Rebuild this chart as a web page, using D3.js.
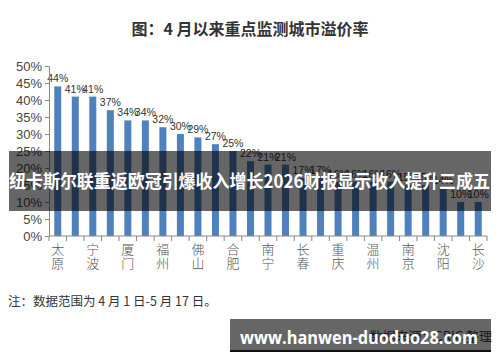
<!DOCTYPE html>
<html>
<head>
<meta charset="utf-8">
<script src="https://cdn.jsdelivr.net/npm/d3@7/dist/d3.min.js"></script>
<style>
  html, body { margin: 0; padding: 0; background: #fff; }
  svg { display: block; }
</style>
</head>
<body>
<svg id="chart" width="500" height="362"></svg>
<script>
// City premium rates since April (%), one bar per monitored city
const cityLabels = ["太原", "", "宁波", "", "厦门", "", "福州", "", "佛山", "", "合肥", "",
                    "南宁", "", "长春", "", "重庆", "", "温州", "", "南京", "", "沈阳", "", "长沙"];
const premiumRates = [44, 41, 41, 37, 34, 34, 32, 30, 29, 27, 25, 22,
                      21, 21, 17, 17, 16, 16, 16, 16, 15, 15, 14, 10, 10];
const yTicks = [0, 5, 10, 15, 20, 25, 30, 35, 40, 45, 50];

const titleText = "图：4 月以来重点监测城市溢价率";
const noteText = "注：数据范围为 4 月 1 日-5 月 17 日。";
const sourceText = "数据来源：CRIC 整理";
const bannerText = "纽卡斯尔联重返欧冠引爆收入增长2026财报显示收入提升三成五";
const siteText = "www.hanwen-duoduo28.com";

const svg = d3.select("#chart");
const sans = "'Liberation Sans', Arial, sans-serif";
const cjk = "'Noto Sans CJK SC', 'Noto Sans', sans-serif";

const plot = { left: 49, right: 487, top: 66, bottom: 236 };

const x = d3.scaleBand()
  .domain(d3.range(premiumRates.length))
  .range([plot.left, plot.right])
  .paddingInner(0.6)
  .paddingOuter(0.3);

const y = d3.scaleLinear().domain([0, 50]).range([plot.bottom, plot.top]);

// Title
svg.append("text")
  .attr("x", 250).attr("y", 35)
  .attr("text-anchor", "middle")
  .attr("font-family", cjk).attr("font-weight", "bold")
  .attr("font-size", 16).attr("fill", "#333")
  .text(titleText);

// Bars
svg.append("g").selectAll("rect")
  .data(premiumRates)
  .join("rect")
  .attr("x", (d, i) => x(i))
  .attr("y", d => y(d))
  .attr("width", x.bandwidth())
  .attr("height", d => y(0) - y(d))
  .attr("fill", "#4f81bd");

// Value labels
svg.append("g").selectAll("text")
  .data(premiumRates)
  .join("text")
  .attr("x", (d, i) => x(i) + x.bandwidth() / 2)
  .attr("y", d => y(d) - 4)
  .attr("text-anchor", "middle")
  .attr("font-family", sans).attr("font-size", 10.5)
  .attr("fill", "#333")
  .text(d => d + "%");

// Y axis
const yAxis = svg.append("g")
  .attr("transform", `translate(${plot.left},0)`)
  .call(d3.axisLeft(y).tickValues(yTicks).tickSize(4).tickPadding(3)
    .tickFormat(d => d + "%").tickSizeOuter(0));
yAxis.select(".domain").attr("stroke", "#888");
yAxis.selectAll(".tick line").attr("stroke", "#888");
yAxis.selectAll(".tick text")
  .attr("font-family", sans).attr("font-size", 13).attr("fill", "#444");

// X axis baseline with ticks at category boundaries
const step = x.step();
const boundaries = d3.range(premiumRates.length + 1).map(i => plot.left + i * step);
const xAxis = svg.append("g");
xAxis.append("line")
  .attr("x1", plot.left).attr("x2", plot.right)
  .attr("y1", y(0)).attr("y2", y(0))
  .attr("stroke", "#888");
xAxis.selectAll("line.tk")
  .data(boundaries)
  .join("line").attr("class", "tk")
  .attr("x1", d => d).attr("x2", d => d)
  .attr("y1", y(0)).attr("y2", y(0) + 5)
  .attr("stroke", "#888");

// Vertical (stacked) city names
const labelGroup = svg.append("g");
cityLabels.forEach((name, i) => {
  if (!name) return;
  const cx = x(i) + x.bandwidth() / 2;
  const t = labelGroup.append("text")
    .attr("text-anchor", "middle")
    .attr("font-family", cjk).attr("font-weight", 300)
    .attr("font-size", 13).attr("fill", "#555");
  Array.from(name).forEach((ch, k) => {
    t.append("tspan").attr("x", cx).attr("y", 254 + k * 14).text(ch);
  });
});

// Footnote
svg.append("text")
  .attr("x", 8).attr("y", 306)
  .attr("font-family", cjk).attr("font-size", 12.5).attr("fill", "#333")
  .text(noteText);

// Source line
svg.append("text")
  .attr("x", 492).attr("y", 341)
  .attr("text-anchor", "end")
  .attr("font-family", cjk).attr("font-size", 13).attr("fill", "#444")
  .text(sourceText);

// Headline banner across the plot
svg.append("rect")
  .attr("x", 9).attr("y", 151).attr("width", 482).attr("height", 60)
  .attr("fill", "rgba(0,0,0,0.6)");
svg.append("text")
  .attr("x", 9).attr("y", 188)
  .attr("textLength", 481).attr("lengthAdjust", "spacingAndGlyphs")
  .attr("font-family", cjk).attr("font-weight", "bold")
  .attr("font-size", 18).attr("fill", "#fff")
  .text(bannerText);

// Site badge
svg.append("rect")
  .attr("x", 230).attr("y", 319).attr("width", 261).attr("height", 32)
  .attr("fill", "rgba(0,0,0,0.6)");
svg.append("rect")
  .attr("x", 230).attr("y", 350).attr("width", 261).attr("height", 2)
  .attr("fill", "#111");
svg.append("text")
  .attr("x", 240).attr("y", 344)
  .attr("textLength", 238).attr("lengthAdjust", "spacingAndGlyphs")
  .attr("font-family", "'Open Sans', 'DejaVu Sans', sans-serif").attr("font-weight", "bold")
  .attr("font-size", 18).attr("fill", "#fff")
  .text(siteText);
</script>
</body>
</html>
